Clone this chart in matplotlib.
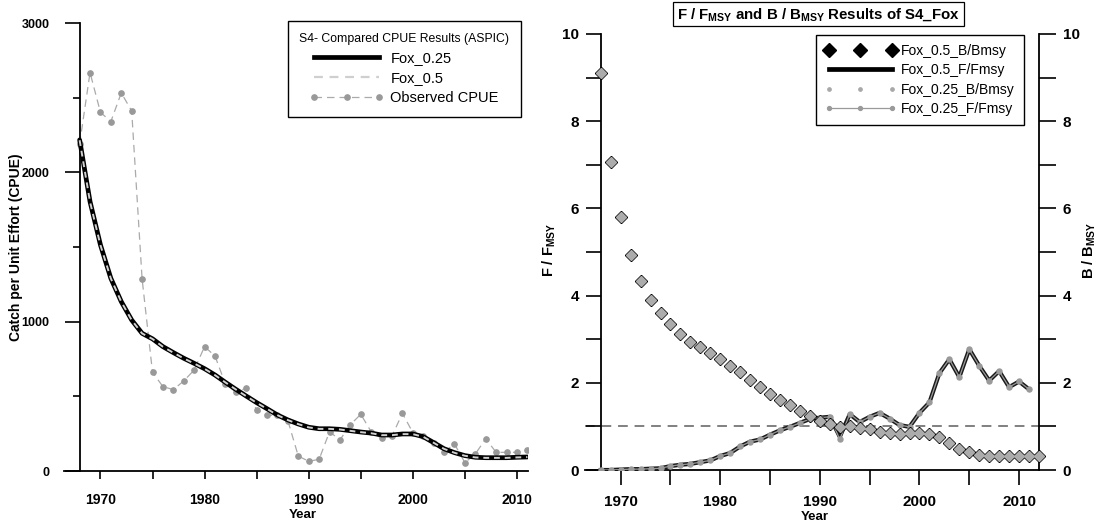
import matplotlib
matplotlib.use('Agg')
import matplotlib.pyplot as plt
from matplotlib.lines import Line2D
from matplotlib.ticker import MultipleLocator

plt.rcParams['font.family'] = ['Liberation Sans', 'DejaVu Sans']
plt.rcParams['mathtext.fontset'] = 'custom'
plt.rcParams['mathtext.rm'] = 'Liberation Sans'
plt.rcParams['mathtext.bf'] = 'Liberation Sans:bold'
plt.rcParams['mathtext.it'] = 'Liberation Sans:italic'

# ---------------- data: left panel (CPUE) ----------------
years_cpue = list(range(1968, 2012))
observed_cpue = [2190, 2668, 2402, 2340, 2532, 2411, 1286, 661, 565, 545,
                 603, 676, 833, 770, 583, 529, 554, 409, 373, 373,
                 337, 100, 65, 78, 263, 208, 310, 380, 263, 219,
                 235, 386, 257, 234, 190, 127, 181, 56, 114, 216,
                 125, 125, 125, 139]
fox_025_cpue = [2217, 1804, 1514, 1290, 1134, 1011, 922, 885, 833, 793,
                755, 721, 685, 643, 594, 547, 502, 458, 417, 375,
                342, 315, 293, 283, 283, 279, 270, 261, 254, 241,
                241, 248, 248, 230, 190, 149, 123, 103, 92, 89,
                89, 89, 92, 94]
fox_05_cpue = [2215, 1802, 1512, 1289, 1133, 1010, 921, 884, 832, 792,
               754, 720, 684, 642, 593, 546, 501, 457, 416, 374,
               341, 314, 292, 282, 282, 278, 269, 260, 253, 240,
               240, 247, 247, 229, 189, 148, 122, 102, 91, 88,
               88, 88, 91, 93]
cpue_yticks = [0, 1000, 2000, 3000]
year_ticks = [1970, 1980, 1990, 2000, 2010]

# ---------------- data: right panel (F/Fmsy, B/Bmsy) ----------------
years_b = list(range(1968, 2013))
fox05_b_bmsy = [9.10, 7.07, 5.80, 4.92, 4.33, 3.89, 3.59, 3.34, 3.13, 2.94,
                2.81, 2.68, 2.55, 2.39, 2.25, 2.06, 1.90, 1.75, 1.61, 1.48,
                1.35, 1.25, 1.13, 1.05, 0.98, 1.02, 0.96, 0.94, 0.88, 0.85,
                0.83, 0.84, 0.86, 0.83, 0.76, 0.61, 0.48, 0.42, 0.35, 0.32,
                0.32, 0.31, 0.32, 0.32, 0.33]
fox025_b_bmsy = [9.10, 7.07, 5.80, 4.92, 4.33, 3.89, 3.59, 3.34, 3.13, 2.94,
                 2.81, 2.68, 2.55, 2.39, 2.25, 2.06, 1.90, 1.75, 1.61, 1.48,
                 1.35, 1.25, 1.13, 1.05, 0.98, 1.02, 0.96, 0.94, 0.88, 0.85,
                 0.83, 0.84, 0.86, 0.83, 0.76, 0.61, 0.48, 0.42, 0.35, 0.32,
                 0.32, 0.31, 0.32, 0.32, 0.33]
years_f = list(range(1968, 2012))
fox05_f_fmsy = [0.00, 0.00, 0.01, 0.02, 0.02, 0.03, 0.04, 0.09, 0.12, 0.14,
                0.18, 0.22, 0.32, 0.39, 0.54, 0.65, 0.70, 0.81, 0.91, 0.99,
                1.08, 1.17, 1.20, 1.22, 0.76, 1.28, 1.10, 1.22, 1.31, 1.18,
                1.03, 0.99, 1.31, 1.55, 2.22, 2.54, 2.13, 2.77, 2.39, 2.05,
                2.27, 1.90, 2.03, 1.85]
fox025_f_fmsy = [0.00, 0.00, 0.01, 0.02, 0.02, 0.03, 0.04, 0.09, 0.12, 0.14,
                 0.18, 0.22, 0.32, 0.39, 0.54, 0.65, 0.70, 0.81, 0.91, 0.99,
                 1.08, 1.17, 1.20, 1.22, 0.70, 1.29, 1.10, 1.22, 1.31, 1.18,
                 1.03, 0.99, 1.31, 1.55, 2.22, 2.54, 2.13, 2.77, 2.39, 2.05,
                 2.27, 1.90, 2.03, 1.85]
ratio_yticks = [0, 2, 4, 6, 8, 10]
msy_reference = 1.0

W, H = 1101, 524
fig = plt.figure(figsize=(W / 100, H / 100), dpi=100)


def px_rect(x0, y0, x1, y1):
    return [x0 / W, 1 - y1 / H, (x1 - x0) / W, (y1 - y0) / H]


def bold_ticklabels(a):
    for lab in a.get_yticklabels() + a.get_xticklabels():
        lab.set_fontweight('bold')


# ================= LEFT PANEL =================
ax = fig.add_axes(px_rect(64, 23, 528, 471))
ax.set_xlim(1966.5, 2011.06)
ax.set_ylim(0, 3000)
ax.spines['top'].set_visible(False)
ax.spines['right'].set_visible(False)
ax.spines['left'].set_position(('data', 1968))
for s in ('left', 'bottom'):
    ax.spines[s].set_linewidth(1.3)

ax.plot(years_cpue, observed_cpue, color='#aaaaaa', lw=0.9, ls=(0, (6, 4)),
        marker='o', ms=3.8, mfc='#999999', mec='#999999', zorder=2)
ax.plot(years_cpue, fox_025_cpue, color='black', lw=3.4, zorder=3,
        solid_capstyle='round')
ax.plot(years_cpue, fox_05_cpue, color='#cfcfcf', lw=1.4, ls=(0, (3, 2.5)),
        zorder=4)

ax.set_yticks(cpue_yticks)
ax.set_yticklabels([str(v) for v in cpue_yticks])
ax.yaxis.set_minor_locator(MultipleLocator(500))
ax.set_xticks(year_ticks)
ax.set_xticklabels([str(v) for v in year_ticks])
ax.xaxis.set_minor_locator(MultipleLocator(5))
ax.tick_params(axis='y', which='major', direction='out', length=10.8, width=1.2,
               pad=11, labelsize=9)
ax.tick_params(axis='y', which='minor', direction='out', length=5.4, width=1.2)
ax.tick_params(axis='x', which='both', direction='out', length=6, width=1.2,
               pad=10, labelsize=10)
bold_ticklabels(ax)

ax.set_ylabel('Catch per Unit Effort (CPUE)', fontsize=10, fontweight='bold')
ax.yaxis.set_label_coords((16.5 - 64) / 464, 0.5)
ax.yaxis.label.set_verticalalignment('center')
ax.set_xlabel('Year', fontsize=9.5, fontweight='bold')
ax.xaxis.set_label_coords((303 - 64) / 464, (471 - 515) / 448)
ax.xaxis.label.set_verticalalignment('center')

leg_handles = [
    Line2D([], [], color='black', lw=3.4),
    Line2D([], [], color='#cfcfcf', lw=1.6, ls=(0, (4, 3))),
    Line2D([], [], color='#aaaaaa', lw=0.9, ls=(0, (6, 4)), marker='o',
           ms=3.8, mfc='#999999', mec='#999999'),
]
leg1 = ax.legend(leg_handles, ['Fox_0.25', 'Fox_0.5', 'Observed CPUE'],
                 title='S4- Compared CPUE Results (ASPIC)',
                 title_fontsize=8.8, fontsize=10.5, loc='upper right',
                 bbox_to_anchor=(521 / W, 1 - 21 / H),
                 bbox_transform=fig.transFigure, fancybox=False,
                 edgecolor='black', framealpha=1, numpoints=3,
                 handlelength=5.0, handletextpad=0.5, labelspacing=0.42,
                 borderpad=0.8, borderaxespad=0)
leg1.get_frame().set_linewidth(1.0)

# ================= RIGHT PANEL =================
axr = fig.add_axes(px_rect(585, 34, 1039, 470))
axr.set_xlim(1966.42, 2012)
axr.set_ylim(0, 10)
axr.spines['top'].set_visible(False)
axr.spines['right'].set_visible(False)
axr.spines['left'].set_position(('data', 1968))
for s in ('left', 'bottom'):
    axr.spines[s].set_linewidth(1.3)

ax2 = axr.twinx()
ax2.set_ylim(0, 10)
for s in ('top', 'left', 'bottom'):
    ax2.spines[s].set_visible(False)
ax2.spines['right'].set_linewidth(1.3)

axr.axhline(msy_reference, color='#808080', lw=1.4, ls=(0, (5, 3.5)), zorder=1)
axr.plot(years_f, fox05_f_fmsy, color='#1a1a1a', lw=3.0, zorder=3)
axr.plot(years_f, fox025_f_fmsy, color='#9a9a9a', lw=0.9, marker='o', ms=3.6,
         mfc='#9a9a9a', mec='#9a9a9a', zorder=4)
ax2.plot(years_b, fox05_b_bmsy, ls='none', marker='D', ms=6.6, color='black',
         zorder=5, clip_on=False)
ax2.plot(years_b, fox025_b_bmsy, ls='none', marker='D', ms=4.8,
         mfc='#acacac', mec='#acacac', zorder=6, clip_on=False)

for a in (axr, ax2):
    a.set_yticks(ratio_yticks)
    a.set_yticklabels([str(v) for v in ratio_yticks])
    a.yaxis.set_minor_locator(MultipleLocator(1))
axr.set_xticks(year_ticks)
axr.set_xticklabels([str(v) for v in year_ticks])
axr.xaxis.set_minor_locator(MultipleLocator(5))
axr.tick_params(axis='y', which='both', direction='out', length=10.8, width=1.2,
                pad=5, labelsize=11)
ax2.tick_params(axis='y', which='both', direction='out', length=12, width=1.2,
                pad=5, labelsize=11)
axr.tick_params(axis='x', which='both', direction='out', length=10.8, width=1.2,
                pad=7, labelsize=11)
bold_ticklabels(axr)
bold_ticklabels(ax2)

axr.set_ylabel(r'F / F$_{\mathbf{MSY}}$', fontsize=10.5, fontweight='bold')
axr.yaxis.set_label_coords((549 - 585) / 454, 0.505)
axr.yaxis.label.set_verticalalignment('center')
ax2.set_ylabel(r'B / B$_{\mathbf{MSY}}$', fontsize=10.5, fontweight='bold')
ax2.yaxis.set_label_coords((1089 - 585) / 454, 0.505)
ax2.yaxis.label.set_verticalalignment('center')
ax2.yaxis.label.set_rotation(90)
axr.set_xlabel('Year', fontsize=9.5, fontweight='bold')
axr.xaxis.set_label_coords((815 - 585) / 454, (470 - 517) / 436)
axr.xaxis.label.set_verticalalignment('center')

fig.text(818.5 / W, 1 - 14.3 / H,
         r'F / F$_{\mathbf{MSY}}$ and B / B$_{\mathbf{MSY}}$ Results of S4_Fox',
         ha='center', va='center', fontsize=10.8, fontweight='bold',
         bbox=dict(boxstyle='square,pad=0.25', fc='white', ec='black', lw=0.9))

r_handles = [
    Line2D([], [], ls='none', marker='D', ms=7.0, color='black'),
    Line2D([], [], color='black', lw=3.4),
    Line2D([], [], ls='none', marker='o', ms=2.4, color='#a8a8a8'),
    Line2D([], [], color='#9a9a9a', lw=0.9, marker='o', ms=2.8,
           mfc='#9a9a9a', mec='#9a9a9a'),
]
leg2 = ax2.legend(r_handles, ['Fox_0.5_B/Bmsy', 'Fox_0.5_F/Fmsy',
                              'Fox_0.25_B/Bmsy', 'Fox_0.25_F/Fmsy'],
                  fontsize=10, loc='upper right',
                  bbox_to_anchor=(1024 / W, 1 - 35 / H),
                  bbox_transform=fig.transFigure, fancybox=False,
                  edgecolor='black', framealpha=1, numpoints=3,
                  handlelength=5.1, handletextpad=0.4, labelspacing=0.38,
                  borderpad=0.65, borderaxespad=0)
leg2.get_frame().set_linewidth(1.0)

fig.savefig('out.png', dpi=100)
